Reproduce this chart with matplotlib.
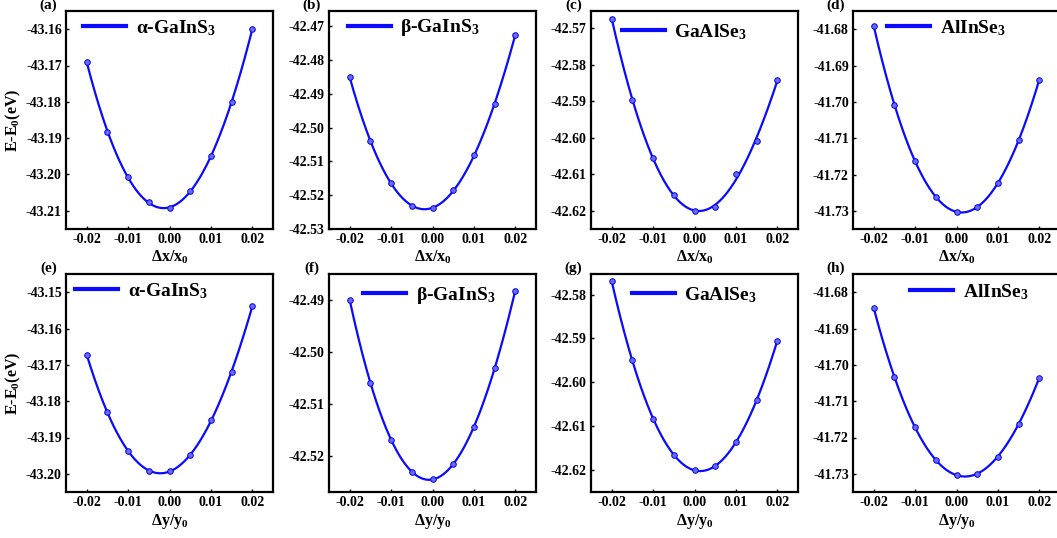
import numpy as np
import matplotlib
matplotlib.use("Agg")
import matplotlib.pyplot as plt
from matplotlib.ticker import MultipleLocator, FormatStrFormatter

# Strain values (same for every panel)
strain = [-0.02, -0.015, -0.01, -0.005, 0.0, 0.005, 0.01, 0.015, 0.02]

# Energies along x (top row)
e_x_alpha = [-43.1690, -43.1882, -43.2007, -43.2077, -43.2093, -43.2046, -43.1949, -43.1801, -43.1600]
e_x_beta = [-42.4851, -42.5040, -42.5163, -42.5232, -42.5239, -42.5186, -42.5082, -42.4931, -42.4725]
e_x_gaalse = [-42.5674, -42.5896, -42.6056, -42.6157, -42.6201, -42.6191, -42.6100, -42.6010, -42.5842]
e_x_alinse = [-41.6791, -41.7008, -41.7163, -41.7262, -41.7303, -41.7289, -41.7224, -41.7106, -41.6939]

# Energies along y (bottom row)
e_y_alpha = [-43.1672, -43.1831, -43.1937, -43.1991, -43.1993, -43.1949, -43.1853, -43.1719, -43.1539]
e_y_beta = [-42.4900, -42.5060, -42.5169, -42.5231, -42.5245, -42.5217, -42.5145, -42.5031, -42.4882]
e_y_gaalse = [-42.5770, -42.5950, -42.6083, -42.6166, -42.6200, -42.6190, -42.6137, -42.6041, -42.5905]
e_y_alinse = [-41.6843, -41.7034, -41.7172, -41.7262, -41.7303, -41.7300, -41.7253, -41.7162, -41.7036]

names = ["α-GaInS$_3$", "β-GaInS$_3$", "GaAlSe$_3$", "AlInSe$_3$"]
panel_tags = ["(a)", "(b)", "(c)", "(d)", "(e)", "(f)", "(g)", "(h)"]
energies = [e_x_alpha, e_x_beta, e_x_gaalse, e_x_alinse,
            e_y_alpha, e_y_beta, e_y_gaalse, e_y_alinse]
ylims = [(-43.215, -43.155), (-42.530, -42.4655), (-42.625, -42.5653), (-41.735, -41.675),
         (-43.205, -43.145), (-42.527, -42.485), (-42.625, -42.5753), (-41.735, -41.675)]

# legend position (pixels from left spine, pixels from top spine)
leg_pos = [(17, 17), (19, 17), (31, 21), (34, 17), (9, 17), (34, 21), (41, 21), (57, 18)]

plt.rcParams["font.family"] = ["Liberation Serif", "DejaVu Serif"]
plt.rcParams["font.weight"] = "bold"
plt.rcParams["mathtext.fontset"] = "custom"
plt.rcParams["mathtext.rm"] = "Liberation Serif:bold"
plt.rcParams["mathtext.it"] = "Liberation Serif:italic:bold"
plt.rcParams["mathtext.bf"] = "Liberation Serif:bold"
plt.rcParams["axes.unicode_minus"] = False

W, H = 1057, 538
fig = plt.figure(figsize=(W / 100, H / 100), dpi=100)

lefts = [66, 329, 591, 853]
tops = [11, 274]
aw, ah = 207, 218
blue = "#0a0aff"

for i in range(8):
    row, col = divmod(i, 4)
    l = lefts[col]
    t = tops[row]
    ax = fig.add_axes([l / W, 1 - (t + ah) / H, aw / W, ah / H])

    y = np.array(energies[i])
    x = np.array(strain)
    # smooth fitted curve through the points
    coef = np.polyfit(x, y, 4)
    xf = np.linspace(x.min(), x.max(), 200)
    ax.plot(xf, np.polyval(coef, xf), color=blue, lw=1.6, label=names[col])
    ax.plot(x, y, "o", ms=4, mfc="#6a6aff", mec="#0000dd", mew=0.7)

    ax.set_xlim(-0.025, 0.025)
    ax.set_ylim(*ylims[i])
    ax.xaxis.set_major_locator(MultipleLocator(0.01))
    ax.yaxis.set_major_locator(MultipleLocator(0.01))
    ax.xaxis.set_major_formatter(FormatStrFormatter("%.2f"))
    ax.yaxis.set_major_formatter(FormatStrFormatter("%.2f"))
    ax.tick_params(direction="in", length=2.5, width=1, labelsize=10, pad=3)
    for s in ax.spines.values():
        s.set_linewidth(1.6)

    if row == 0:
        ax.set_xlabel("Δx/x$_0$", fontsize=11.5, fontweight="bold", labelpad=2)
    else:
        ax.set_xlabel("Δy/y$_0$", fontsize=11.5, fontweight="bold", labelpad=2)
    if col == 0:
        ax.set_ylabel("E-E$_0$(eV)", fontsize=11.5, fontweight="bold", labelpad=2)

    ax.text(-0.085, 1.025, panel_tags[i], transform=ax.transAxes, ha="center",
            va="center", fontsize=11, fontweight="bold")

    px, py = leg_pos[i]
    ax.legend(loc="center left", bbox_to_anchor=(px / aw, 1 - py / ah), frameon=False,
              borderpad=0, borderaxespad=0, handlelength=2.2, handletextpad=0.5,
              prop={"family": "Liberation Serif", "weight": "bold", "size": 14})
    leg = ax.get_legend()
    for h in leg.legend_handles:
        h.set_linewidth(3)

fig.savefig("out.png", dpi=100)
